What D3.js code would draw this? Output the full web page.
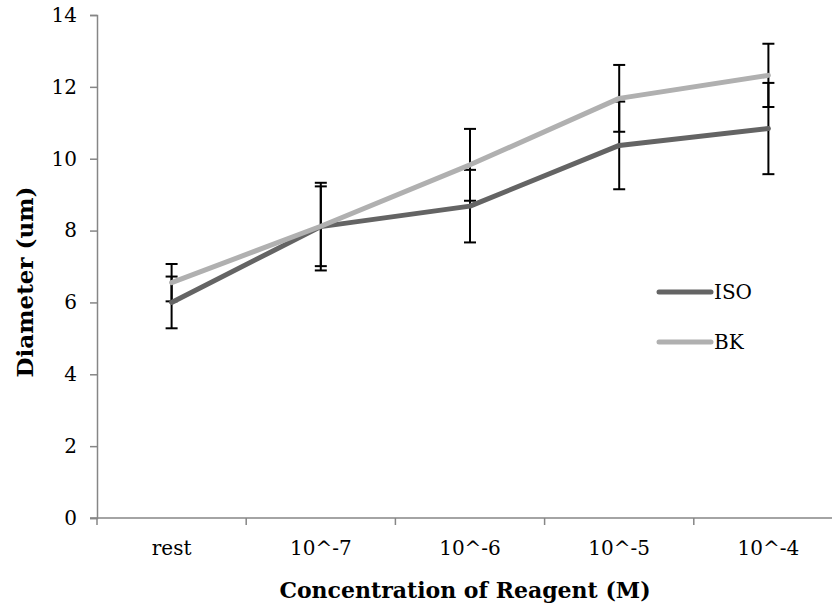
<!DOCTYPE html>
<html>
<head>
<meta charset="utf-8">
<script src="https://cdn.jsdelivr.net/npm/d3@7"></script>
<style>
  body { margin: 0; background: #fff; }
  svg { display: block; }
  text { font-family: "DejaVu Serif", "Liberation Serif", serif; fill: #000; }
</style>
</head>
<body>
<div id="chart"></div>
<script>
'use strict';

var categories = ['rest', '10^-7', '10^-6', '10^-5', '10^-4'];
var isoValues = [6.0, 8.11, 8.68, 10.37, 10.84];
var isoErrors = [0.72, 1.22, 1.01, 1.22, 1.27];
var bkValues = [6.55, 8.12, 9.83, 11.68, 12.32];
var bkErrors = [0.52, 1.11, 1.0, 0.93, 0.88];
var yTicks = [0, 2, 4, 6, 8, 10, 12, 14];

var series = [
    { name: 'ISO', values: isoValues, errors: isoErrors, color: '#646464' },
    { name: 'BK', values: bkValues, errors: bkErrors, color: '#b0b0b0' }
];

var width = 832, height = 605;
var plotLeft = 97, plotTop = 15, plotRight = 843, plotBottom = 518;
var font = '"DejaVu Serif", serif';

var svg = d3.select('#chart').append('svg')
    .attr('width', width)
    .attr('height', height);

var x = d3.scaleBand().domain(categories).range([plotLeft, plotRight]);
var y = d3.scaleLinear().domain([0, 14]).range([plotBottom, plotTop]);

// axes
var yAxis = svg.append('g')
    .attr('transform', 'translate(' + plotLeft + ',0)')
    .call(d3.axisLeft(y).tickValues(yTicks).tickSize(7).tickPadding(13));
yAxis.select('.domain').attr('stroke', '#868686').attr('stroke-width', 1.5);
yAxis.selectAll('.tick line').attr('stroke', '#868686').attr('stroke-width', 1.5);
yAxis.selectAll('.tick text').attr('font-size', 20).attr('font-family', font).attr('fill', '#000');

var xAxis = svg.append('g')
    .attr('transform', 'translate(0,' + plotBottom + ')')
    .call(d3.axisBottom(x).tickSize(0).tickPadding(23));
xAxis.select('.domain').remove();
xAxis.append('line')
    .attr('x1', plotLeft - 7).attr('x2', width)
    .attr('stroke', '#868686').attr('stroke-width', 1.5);
xAxis.selectAll('.tick text').attr('font-size', 20).attr('font-family', font).attr('fill', '#000');

// tick marks between categories
svg.append('g').selectAll('line')
    .data(categories.concat(['end']))
    .join('line')
    .attr('x1', function (d, i) { return plotLeft + i * x.step(); })
    .attr('x2', function (d, i) { return plotLeft + i * x.step(); })
    .attr('y1', plotBottom)
    .attr('y2', plotBottom + 7)
    .attr('stroke', '#868686')
    .attr('stroke-width', 1.5);

// error bars
var cx = function (i) { return x(categories[i]) + x.bandwidth() / 2; };
var capW = 6;
series.forEach(function (s) {
    var g = svg.append('g').attr('stroke', '#000').attr('stroke-width', 2);
    s.values.forEach(function (v, i) {
        var lo = y(v - s.errors[i]), hi = y(v + s.errors[i]);
        g.append('line').attr('x1', cx(i)).attr('x2', cx(i)).attr('y1', lo).attr('y2', hi);
        g.append('line').attr('x1', cx(i) - capW).attr('x2', cx(i) + capW).attr('y1', lo).attr('y2', lo);
        g.append('line').attr('x1', cx(i) - capW).attr('x2', cx(i) + capW).attr('y1', hi).attr('y2', hi);
    });
});

// lines
var line = d3.line()
    .x(function (d, i) { return cx(i); })
    .y(function (d) { return y(d); });

series.forEach(function (s) {
    svg.append('path')
        .datum(s.values)
        .attr('d', line)
        .attr('fill', 'none')
        .attr('stroke', s.color)
        .attr('stroke-width', 5)
        .attr('stroke-linejoin', 'round')
        .attr('stroke-linecap', 'round');
});

// legend
var legend = svg.append('g');
series.forEach(function (s, i) {
    var ly = 292 + i * 50;
    legend.append('line')
        .attr('x1', 659).attr('x2', 711)
        .attr('y1', ly).attr('y2', ly)
        .attr('stroke', s.color)
        .attr('stroke-width', 5)
        .attr('stroke-linecap', 'round');
    legend.append('text')
        .attr('x', 714).attr('y', ly)
        .attr('dy', '0.35em')
        .attr('font-size', 20)
        .text(s.name);
});

// axis titles
svg.append('text')
    .attr('x', 465).attr('y', 598)
    .attr('text-anchor', 'middle')
    .attr('font-size', 22)
    .attr('font-weight', 'bold')
    .text('Concentration of Reagent (M)');

svg.append('text')
    .attr('transform', 'translate(33,282) rotate(-90)')
    .attr('text-anchor', 'middle')
    .attr('font-size', 23)
    .attr('font-weight', 'bold')
    .text('Diameter (um)');
</script>
</body>
</html>
